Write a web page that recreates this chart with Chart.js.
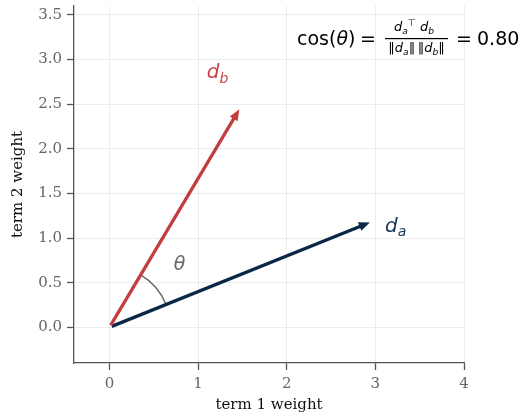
<!DOCTYPE html>
<html>
<head>
<meta charset="utf-8">
<script src="https://cdn.jsdelivr.net/npm/chart.js@4/dist/chart.umd.min.js"></script>
<style>
  html, body { margin: 0; background: #fff; }
  canvas { display: block; }
</style>
</head>
<body>
<canvas id="grafico" width="523" height="416"></canvas>
<script>
// dados
const vetorA = [3, 1.2];
const vetorB = [1.5, 2.5];
const xTicks = [0, 1, 2, 3, 4];
const yTicks = [0, 0.5, 1, 1.5, 2, 2.5, 3, 3.5];
const xTickLabels = ['0', '1', '2', '3', '4'];
const yTickLabels = ['0.0', '0.5', '1.0', '1.5', '2.0', '2.5', '3.0', '3.5'];

const corA = '#0b2748';
const corB = '#c33d3d';

// posições dos rótulos (coordenadas do gráfico)
const rotulos = {
    a: { x: 3.23, y: 1.15 },
    b: { x: 1.22, y: 2.87 },
    theta: { x: 0.79, y: 0.70 }
};

const produto = vetorA[0] * vetorB[0] + vetorA[1] * vetorB[1];
const cosseno = produto / (Math.hypot(...vetorA) * Math.hypot(...vetorB));

const SANS = "'DejaVu Sans'";
const SERIF = "'DejaVu Serif'";

function textoComIndice(ctx, cx, cy, principal, indice, tam, cor) {
    ctx.save();
    ctx.fillStyle = cor;
    ctx.textBaseline = 'alphabetic';
    ctx.font = `italic ${tam}px ${SANS}`;
    const w1 = ctx.measureText(principal).width;
    ctx.font = `italic ${tam * 0.7}px ${SANS}`;
    const w2 = ctx.measureText(indice).width;
    const x0 = cx - (w1 + w2) / 2;
    const base = cy + tam * 0.36;
    ctx.font = `italic ${tam}px ${SANS}`;
    ctx.fillText(principal, x0, base);
    ctx.font = `italic ${tam * 0.7}px ${SANS}`;
    ctx.fillText(indice, x0 + w1, base + tam * 0.22);
    ctx.restore();
    return w1 + w2;
}

const vetores = {
    id: 'vetores',
    afterDatasetsDraw(chart) {
        const { ctx, scales: { x, y } } = chart;
        ctx.save();

        // arco do ângulo
        const ox = x.getPixelForValue(0), oy = y.getPixelForValue(0);
        const angA = Math.atan2(y.getPixelForValue(vetorA[1]) - oy, x.getPixelForValue(vetorA[0]) - ox);
        const angB = Math.atan2(y.getPixelForValue(vetorB[1]) - oy, x.getPixelForValue(vetorB[0]) - ox);
        ctx.strokeStyle = '#666';
        ctx.lineWidth = 1.5;
        ctx.beginPath();
        ctx.arc(ox, oy, 61, angB, angA);
        ctx.stroke();

        chart.data.datasets.forEach(ds => {
            const [p0, p1] = ds.data;
            let x0 = x.getPixelForValue(p0.x), y0 = y.getPixelForValue(p0.y);
            let x1 = x.getPixelForValue(p1.x), y1 = y.getPixelForValue(p1.y);
            const ang = Math.atan2(y1 - y0, x1 - x0);
            const c = Math.cos(ang), s = Math.sin(ang);
            x0 += 2.5 * c; y0 += 2.5 * s;
            x1 -= 6 * c; y1 -= 6 * s;
            const cabeca = 11, meia = 4.6;
            const bx = x1 - cabeca * c, by = y1 - cabeca * s;

            ctx.strokeStyle = ds.cor;
            ctx.fillStyle = ds.cor;
            ctx.lineWidth = 3.3;
            ctx.beginPath();
            ctx.moveTo(x0, y0);
            ctx.lineTo(bx + c, by + s);
            ctx.stroke();

            ctx.beginPath();
            ctx.moveTo(x1, y1);
            ctx.lineTo(bx - meia * s, by + meia * c);
            ctx.lineTo(bx + meia * s, by - meia * c);
            ctx.closePath();
            ctx.fill();
        });
        ctx.restore();

        textoComIndice(ctx, x.getPixelForValue(rotulos.a.x), y.getPixelForValue(rotulos.a.y), 'd', 'a', 20, '#17365f');
        textoComIndice(ctx, x.getPixelForValue(rotulos.b.x), y.getPixelForValue(rotulos.b.y), 'd', 'b', 20, '#c94444');

        ctx.save();
        ctx.fillStyle = '#666';
        ctx.font = `italic 19px ${SANS}`;
        ctx.textAlign = 'center';
        ctx.textBaseline = 'middle';
        ctx.fillText('θ', x.getPixelForValue(rotulos.theta.x), y.getPixelForValue(rotulos.theta.y));
        ctx.restore();
    }
};

const formula = {
    id: 'formula',
    afterDraw(chart) {
        const ctx = chart.ctx;
        ctx.save();
        ctx.fillStyle = '#000';
        ctx.textBaseline = 'alphabetic';
        const base = 45;
        let px = 297;
        const pedacos = [['cos(', ''], ['θ', 'italic '], [')', '']];
        pedacos.forEach(([t, estilo]) => {
            ctx.font = `${estilo}19px ${SANS}`;
            ctx.fillText(t, px, base);
            px += ctx.measureText(t).width;
        });

        ctx.font = `19px ${SANS}`;
        ctx.textAlign = 'center';
        ctx.fillText('=', 368, base);
        ctx.fillText('=', 464, base);
        ctx.textAlign = 'left';
        ctx.fillText(cosseno.toFixed(2), 477, base);

        // barra da fração
        ctx.fillRect(385, 38, 63, 1.2);

        const tam = 13;
        const sub = tam * 0.7;
        // numerador
        const numer = [
            ['d', `italic ${tam}px ${SANS}`, 0],
            ['a', `italic ${sub}px ${SANS}`, 3],
            ['⊤', `${sub}px ${SANS}`, -5],
            [' ', `${tam}px ${SANS}`, 0],
            ['d', `italic ${tam}px ${SANS}`, 0],
            ['b', `italic ${sub}px ${SANS}`, 3]
        ];
        const denom = [
            ['‖', `${tam}px ${SANS}`, 0],
            ['d', `italic ${tam}px ${SANS}`, 0],
            ['a', `italic ${sub}px ${SANS}`, 3],
            ['‖', `${tam}px ${SANS}`, 0],
            [' ', `${tam * 0.6}px ${SANS}`, 0],
            ['‖', `${tam}px ${SANS}`, 0],
            ['d', `italic ${tam}px ${SANS}`, 0],
            ['b', `italic ${sub}px ${SANS}`, 3],
            ['‖', `${tam}px ${SANS}`, 0]
        ];
        const linha = (partes, centro, b) => {
            let w = 0;
            partes.forEach(([t, f]) => { ctx.font = f; w += ctx.measureText(t).width; });
            let xx = centro - w / 2;
            partes.forEach(([t, f, dy]) => {
                ctx.font = f;
                ctx.fillText(t, xx, b + dy);
                xx += ctx.measureText(t).width;
            });
        };
        linha(numer, 414, 31);
        linha(denom, 416.5, 52);
        ctx.restore();
    }
};

const eixoComum = (min, max, ticks, labels, titulo, horizontal) => ({
    type: 'linear',
    min, max,
    afterBuildTicks: s => { s.ticks = ticks.map(v => ({ value: v })); },
    afterFit: s => {
        if (horizontal) s.height = 53; else s.width = 74;
        s.paddingTop = 0; s.paddingBottom = 0;
        s.paddingLeft = 0; s.paddingRight = 0;
    },
    ticks: {
        callback: v => labels[ticks.indexOf(v)],
        font: { family: SERIF, size: 15 },
        color: '#666',
        padding: horizontal ? 5 : 5
    },
    grid: {
        color: '#ececec',
        lineWidth: 1,
        tickColor: '#555',
        tickLength: 7,
        tickWidth: 1.3
    },
    border: { display: true, color: '#555', width: 1.3 },
    title: {
        display: true,
        text: titulo,
        font: { family: SERIF, size: 15 },
        color: '#111',
        padding: horizontal ? { top: 0, bottom: 2 } : { top: 9, bottom: 0 }
    }
});

new Chart(document.getElementById('grafico'), {
    type: 'scatter',
    data: {
        datasets: [
            { label: 'd_a', data: [{ x: 0, y: 0 }, { x: vetorA[0], y: vetorA[1] }], cor: corA, pointRadius: 0, showLine: false },
            { label: 'd_b', data: [{ x: 0, y: 0 }, { x: vetorB[0], y: vetorB[1] }], cor: corB, pointRadius: 0, showLine: false }
        ]
    },
    options: {
        responsive: false,
        animation: false,
        layout: { padding: { top: 6, right: 59, left: 0, bottom: 0 } },
        plugins: { legend: { display: false }, tooltip: { enabled: false } },
        scales: {
            x: eixoComum(-0.4, 4, xTicks, xTickLabels, 'term 1 weight', true),
            y: eixoComum(-0.4, 3.6, yTicks, yTickLabels, 'term 2 weight', false)
        }
    },
    plugins: [vetores, formula]
});
</script>
</body>
</html>
